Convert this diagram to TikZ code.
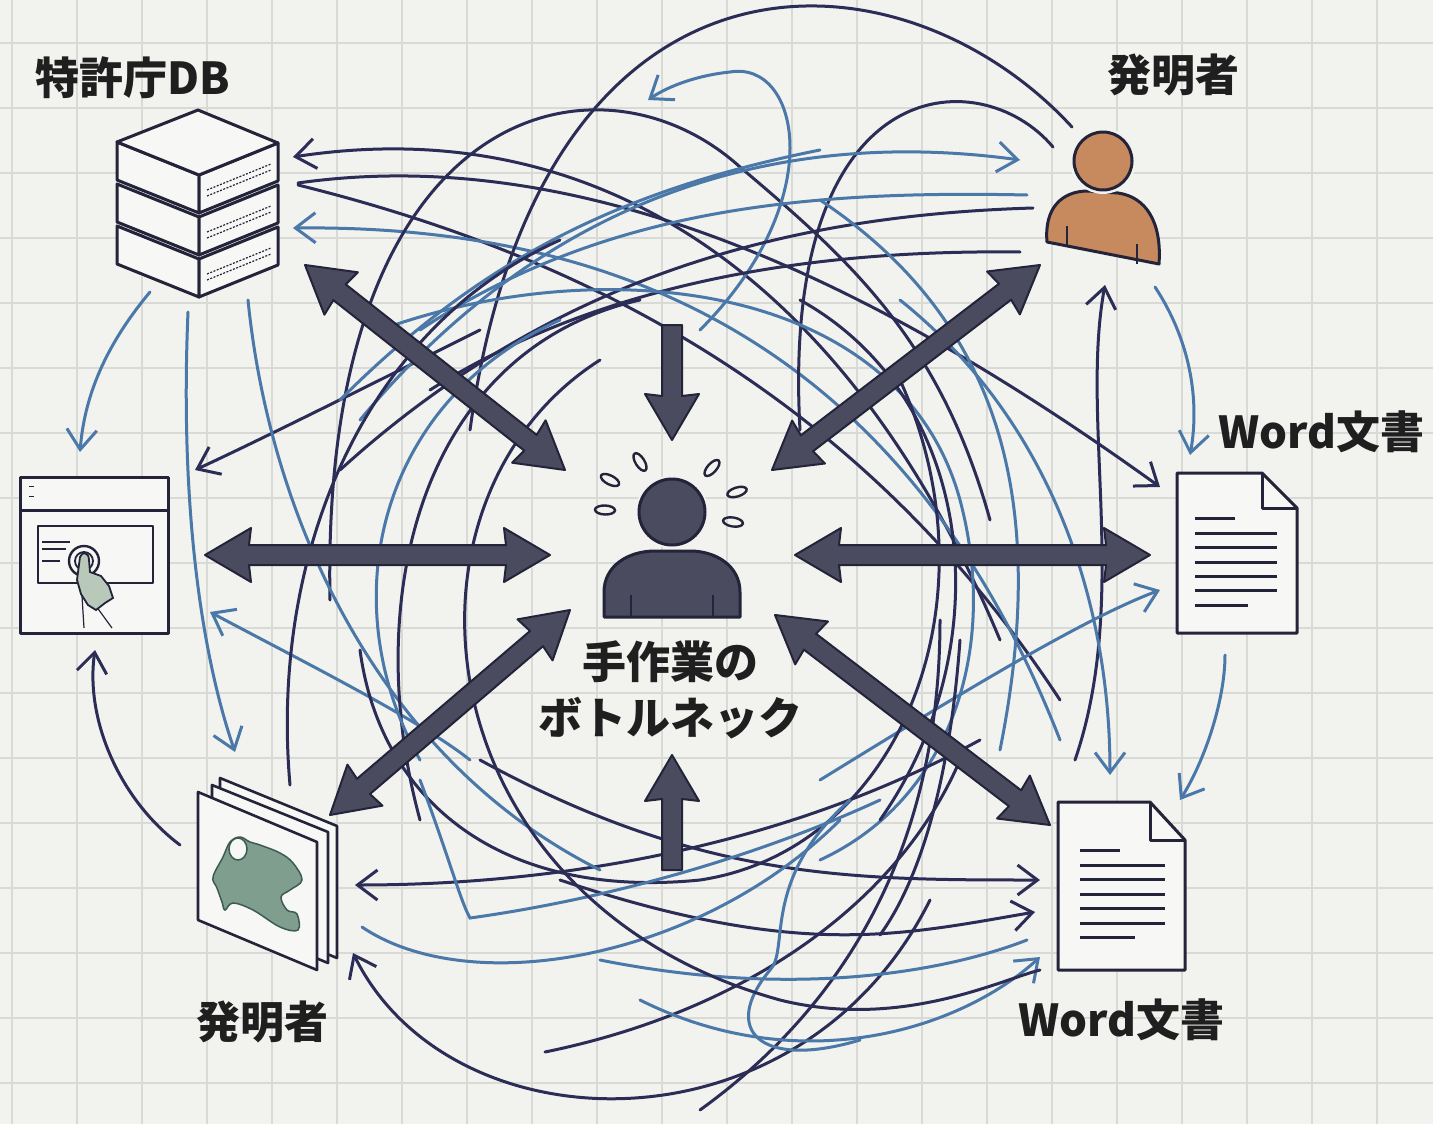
\documentclass[tikz,border=0pt]{standalone}
\usepackage{fontspec}
\newfontfamily\jp{Noto Sans CJK JP}
\usetikzlibrary{arrows.meta,calc}

\definecolor{bg}{HTML}{F2F2EF}
\definecolor{gridc}{HTML}{D9D9D6}
\definecolor{navy}{HTML}{2C2D56}
\definecolor{steel}{HTML}{4A78A8}
\definecolor{slate}{HTML}{4B4B5F}
\definecolor{ink}{HTML}{23233A}
\definecolor{skin}{HTML}{C68A5E}
\definecolor{blob}{HTML}{7F9E8D}
\definecolor{blobedge}{HTML}{3E5A55}
\definecolor{handc}{HTML}{B8C8B9}
\definecolor{paper}{HTML}{F7F7F5}

\tikzset{
  gridline/.style={draw=gridc, line width=1.6pt},
  strandN/.style={draw=navy, line width=3pt, line cap=round},
  strandB/.style={draw=steel, line width=3pt, line cap=round},
  barb/.style={-{Straight Barb[length=20pt,width=30pt]}},
  lbl/.style={font=\jp\bfseries\fontsize{44}{50}\selectfont, text=black!88, inner sep=0pt},
  ico/.style={draw=ink, line width=3pt, line join=round},
  bigarr/.style={fill=slate, draw=ink, line width=2pt, line join=round},
  hold/.style={inner sep=0pt, draw=none},
}

% double-headed block arrow between two named points
\newcommand\twoheaded[2]{%
  \filldraw[bigarr] (#1)
    -- ($(#1)!46pt!(#2)!27pt!90:(#2)$)
    -- ($(#1)!44pt!(#2)!10pt!90:(#2)$)
    -- ($(#2)!44pt!(#1)!10pt!-90:(#1)$)
    -- ($(#2)!46pt!(#1)!27pt!-90:(#1)$)
    -- (#2)
    -- ($(#2)!46pt!(#1)!27pt!90:(#1)$)
    -- ($(#2)!44pt!(#1)!10pt!90:(#1)$)
    -- ($(#1)!44pt!(#2)!10pt!-90:(#2)$)
    -- ($(#1)!46pt!(#2)!27pt!-90:(#2)$)
    -- cycle;}
% single block arrow from tail #1 to tip #2
\newcommand\oneheaded[2]{%
  \filldraw[bigarr] ($(#1)!10pt!90:(#2)$)
    -- ($(#2)!44pt!(#1)!10pt!-90:(#1)$)
    -- ($(#2)!46pt!(#1)!27pt!-90:(#1)$)
    -- (#2)
    -- ($(#2)!46pt!(#1)!27pt!90:(#1)$)
    -- ($(#2)!44pt!(#1)!10pt!90:(#1)$)
    -- ($(#1)!10pt!-90:(#2)$)
    -- cycle;}

\begin{document}
\begin{tikzpicture}[x=1pt,y=-1pt]
\useasboundingbox (0,0) rectangle (1433,1124);
\fill[bg] (0,0) rectangle (1433,1124);
\foreach \gx in {12,77,...,1427} \draw[gridline] (\gx,0) -- (\gx,1124);
\foreach \gy in {43,108,...,1110} \draw[gridline] (0,\gy) -- (1433,\gy);

% ---------- tangled threads ----------
% around the database
\draw[strandN, barb] (1000,640) .. controls (850,280) and (600,110) .. (293,157);
\draw[strandN, barb] (298,183) .. controls (600,140) and (900,300) .. (1160,487);
\draw[strandN] (298,185) .. controls (560,250) and (850,380) .. (1060,700);
\draw[strandB, barb] (1060,740) .. controls (900,330) and (600,225) .. (293,228);
\draw[strandB, barb] (150,292) .. controls (110,340) and (85,390) .. (80,452);
\draw[strandB, barb] (188,312) .. controls (180,500) and (200,650) .. (235,752);
\draw[strandN, barb] (480,330) .. controls (380,380) and (260,440) .. (195,470);
\draw[strandN, barb] (180,845) .. controls (120,800) and (85,720) .. (95,650);
\draw[strandB, barb] (470,760) .. controls (420,720) and (300,660) .. (210,612);

% top arcs
\draw[strandN] (330,600) .. controls (320,100) and (600,40) .. (740,167) .. controls (850,260) and (940,340) .. (990,520);
\draw[strandN] (470,430) .. controls (540,-80) and (900,-60) .. (1072,127);
\draw[strandB, barb] (700,330) .. controls (830,200) and (800,60) .. (730,72) .. controls (700,75) and (670,85) .. (648,100);
\draw[strandN] (800,430) .. controls (780,70) and (980,60) .. (1053,147);
\draw[strandB, barb] (360,420) .. controls (560,180) and (800,130) .. (1020,160);
\draw[strandB] (420,330) .. controls (600,210) and (800,190) .. (1027,195);
\draw[strandN] (340,470) .. controls (560,270) and (800,215) .. (1033,208);
\draw[strandN] (430,390) .. controls (620,270) and (850,250) .. (1020,252);
\draw[strandB] (340,400) .. controls (480,260) and (620,190) .. (820,150);
\draw[strandB] (380,330) .. controls (600,250) and (900,280) .. (960,500) .. controls (1000,650) and (950,800) .. (820,860);

% right side
\draw[strandN, barb] (1075,760) .. controls (1130,600) and (1080,420) .. (1105,285);
\draw[strandB, barb] (1155,287) .. controls (1190,340) and (1200,400) .. (1190,455);
\draw[strandB, barb] (1225,655) .. controls (1225,700) and (1205,760) .. (1180,800);
\draw[strandB, barb] (820,780) .. controls (950,700) and (1080,620) .. (1160,590);
\draw[strandB, barb] (900,300) .. controls (1050,420) and (1110,600) .. (1110,775);
\draw[strandB] (820,200) .. controls (1000,320) and (1050,500) .. (1000,750);
\draw[strandN] (880,820) .. controls (1000,650) and (980,400) .. (800,300);
\draw[strandN] (900,380) .. controls (1000,600) and (900,850) .. (700,880) .. controls (500,900) and (380,800) .. (360,650);

% bottom
\draw[strandN, barb] (980,740) .. controls (760,860) and (520,885) .. (355,885);
\draw[strandN, barb] (930,900) .. controls (800,1160) and (450,1150) .. (353,953);
\draw[strandN, barb] (480,760) .. controls (700,880) and (850,880) .. (1040,880);
\draw[strandN, barb] (560,880) .. controls (800,960) and (900,935) .. (1035,912);
\draw[strandN] (545,1052) .. controls (750,1010) and (900,900) .. (960,760);
\draw[strandN] (700,1110) .. controls (880,980) and (940,800) .. (940,620);
\draw[strandN] (880,935) .. controls (920,880) and (950,780) .. (960,640);
\draw[strandB] (362,927) .. controls (470,1000) and (700,960) .. (840,820);
\draw[strandB] (600,960) .. controls (800,1000) and (950,970) .. (1027,940);
\draw[strandB, barb] (640,1000) .. controls (800,1080) and (960,1030) .. (1040,957);
\draw[strandB] (850,800) .. controls (760,880) and (790,950) .. (770,970) .. controls (720,1030) and (760,1070) .. (860,1040);
\draw[strandB] (420,780) .. controls (450,860) and (460,900) .. (470,918) .. controls (600,900) and (750,860) .. (880,800);

% left ring
\draw[strandN] (290,785) .. controls (270,560) and (360,330) .. (560,240);
\draw[strandB] (248,300) .. controls (270,520) and (380,760) .. (600,870);
\draw[strandN] (420,820) .. controls (360,600) and (420,350) .. (640,300);
\draw[strandB] (420,760) .. controls (330,600) and (380,400) .. (560,320);
\draw[strandN] (600,360) .. controls (380,500) and (420,900) .. (780,1000) .. controls (900,1030) and (1000,980) .. (1040,970);

% ---------- database (server stack) ----------
\node[hold, minimum width=165pt, minimum height=190pt] (db) at (198,205) {};
\foreach \o in {84,42,0}{
  \draw[ico, fill=paper] (117,142+\o) -- (199,175+\o) -- (199,213+\o) -- (117,180+\o) -- cycle;
  \draw[ico, fill=paper] (199,175+\o) -- (278,143+\o) -- (278,181+\o) -- (199,213+\o) -- cycle;
  \draw[ink, line width=1.2pt, dash pattern=on 2pt off 1.5pt] (207,190+\o) -- (271,164+\o) (207,196+\o) -- (271,170+\o);
}
\draw[ico, fill=paper] (117,142) -- (198,110) -- (278,143) -- (199,175) -- cycle;
\node[lbl] (dblabel) at (133,78) {特許庁DB};

% ---------- browser window ----------
\node[hold, minimum width=150pt, minimum height=158pt] (browser) at (94,555) {};
\draw[ico, fill=paper] (20,477) rectangle (168,633);
\draw[ico] (20,510) -- (168,510);
\draw[ink, line width=1pt] (29,486) -- (34,486) (29,496) -- (34,496);
\draw[ico, line width=2.6pt] (38,526) rectangle (153,583);
\draw[ink, line width=1.6pt] (42,542) -- (70,542) (42,549) -- (66,549) (42,561) -- (60,561);
\draw[ink, line width=2.4pt, fill=paper] (84,561) circle[radius=15pt];
\draw[ink, line width=1.8pt] (84,561) circle[radius=9pt];
\draw[ink, line width=1.2pt] (82,596) -- (84,628) (96,606) -- (112,628);
\draw[ink, line width=1.8pt, fill=handc] (80,557) .. controls (82,551) and (89,552) .. (89,560)
  -- (90,572) -- (101,576) -- (109,586) -- (113,598) -- (105,603) -- (96,610)
  -- (88,605) -- (81,594) -- (77,580) -- cycle;

% ---------- image stack ----------
\node[hold, minimum width=140pt, minimum height=190pt] (stack) at (267,875) {};
\draw[ico, line width=2.6pt, fill=paper] (220,778) -- (337,826) -- (337,958) -- (220,910) -- cycle;
\draw[ico, line width=2.6pt, fill=paper] (212,785) -- (328,832) -- (328,963) -- (212,915) -- cycle;
\draw[ico, line width=2.6pt, fill=paper] (198,792) -- (317,842) -- (317,970) -- (198,920) -- cycle;
\draw[blobedge, line width=1.5pt, fill=blob] plot[smooth cycle, tension=0.6] coordinates {
  (213,877) (223,857) (230,842) (240,837) (250,842) (260,845) (280,853) (293,863)
  (302,880) (290,890) (281,897) (287,910) (297,914) (298,930) (280,927) (253,910)
  (233,903) (225,910) (222,902) (217,888)};
\draw[blobedge, line width=1.5pt, fill=paper] (238,849) ellipse (9pt and 11pt);
\node[lbl] (stacklabel) at (262,1022) {発明者};

% ---------- inventor ----------
\node[hold, minimum width=115pt, minimum height=135pt] (inventor) at (1103,200) {};
\draw[ico, fill=skin] (1047,242) .. controls (1044,208) and (1062,191) .. (1088,191)
  -- (1118,193) .. controls (1146,197) and (1162,222) .. (1159,264) -- cycle;
\draw[ink, line width=2pt] (1067,226) -- (1067,246) (1137,244) -- (1137,264);
\draw[bg, line width=8pt] (1103,161) circle[radius=29pt];
\draw[ico, fill=skin] (1103,161) circle[radius=29pt];
\node[lbl] (invlabel) at (1173,75) {発明者};

% ---------- Word documents ----------
\node[hold, minimum width=120pt, minimum height=160pt] (doc1) at (1237,553) {};
\draw[ico, fill=paper] (1177,473) -- (1262,473) -- (1297,508) -- (1297,633) -- (1177,633) -- cycle;
\draw[ico] (1262,473) -- (1262,508) -- (1297,508);
\draw[ink, line width=3pt] (1195,518) -- (1235,518);
\foreach \ly in {533,547,562,576,590} \draw[ink, line width=3pt] (1195,\ly) -- (1277,\ly);
\draw[ink, line width=3pt] (1195,605) -- (1248,605);
\node[lbl] (doc1label) at (1321,432) {Word文書};

\node[hold, minimum width=127pt, minimum height=168pt] (doc2) at (1121,886) {};
\draw[ico, fill=paper] (1058,802) -- (1150,802) -- (1185,840) -- (1185,970) -- (1058,970) -- cycle;
\draw[ico] (1150,802) -- (1150,840) -- (1185,840);
\draw[ink, line width=3pt] (1080,850) -- (1120,850);
\foreach \ly in {865,879,894,908,923} \draw[ink, line width=3pt] (1080,\ly) -- (1165,\ly);
\draw[ink, line width=3pt] (1080,937) -- (1135,937);
\node[lbl] (doc2label) at (1121,1020) {Word文書};

% ---------- block arrows to the bottleneck ----------
\coordinate (dbA) at (305,265);    \coordinate (hubNW) at (565,470);
\coordinate (topA) at (672,325);   \coordinate (hubN) at (672,440);
\coordinate (invA) at (1040,265);  \coordinate (hubNE) at (772,470);
\coordinate (brA) at (205,555);    \coordinate (hubW) at (550,555);
\coordinate (hubE) at (795,555);   \coordinate (doc1A) at (1150,555);
\coordinate (hubSW) at (570,610);  \coordinate (stA) at (330,815);
\coordinate (botA) at (672,870);   \coordinate (hubS) at (672,755);
\coordinate (hubSE) at (775,615);  \coordinate (doc2A) at (1050,825);
\twoheaded{dbA}{hubNW}
\oneheaded{topA}{hubN}
\twoheaded{invA}{hubNE}
\twoheaded{brA}{hubW}
\twoheaded{hubE}{doc1A}
\twoheaded{hubSW}{stA}
\oneheaded{botA}{hubS}
\twoheaded{hubSE}{doc2A}

% ---------- the overloaded worker ----------
\node[hold, minimum width=140pt, minimum height=140pt] (hub) at (672,545) {};
\draw[ico, fill=slate] (604,617) -- (604,592) .. controls (604,566) and (628,551) .. (655,551)
  -- (690,551) .. controls (716,551) and (740,566) .. (740,592) -- (740,617) -- cycle;
\draw[ink, line width=2pt] (631,595) -- (631,617) (713,595) -- (713,617);
\draw[bg, line width=7pt] (672,512) circle[radius=33pt];
\draw[ico, fill=slate] (672,512) circle[radius=33pt];
\foreach \px/\py/\ang in {640/462/122, 610/480/153, 605/510/178, 712/468/48, 737/492/17, 733/522/-9}
  \draw[ink, line width=2.4pt, rotate around={\ang:(\px,\py)}] (\px,\py) ellipse (10pt and 4.5pt);
\node[lbl] (hubtext1) at (670,662) {手作業の};
\node[lbl] (hubtext2) at (670,718) {ボトルネック};
\end{tikzpicture}
\end{document}
